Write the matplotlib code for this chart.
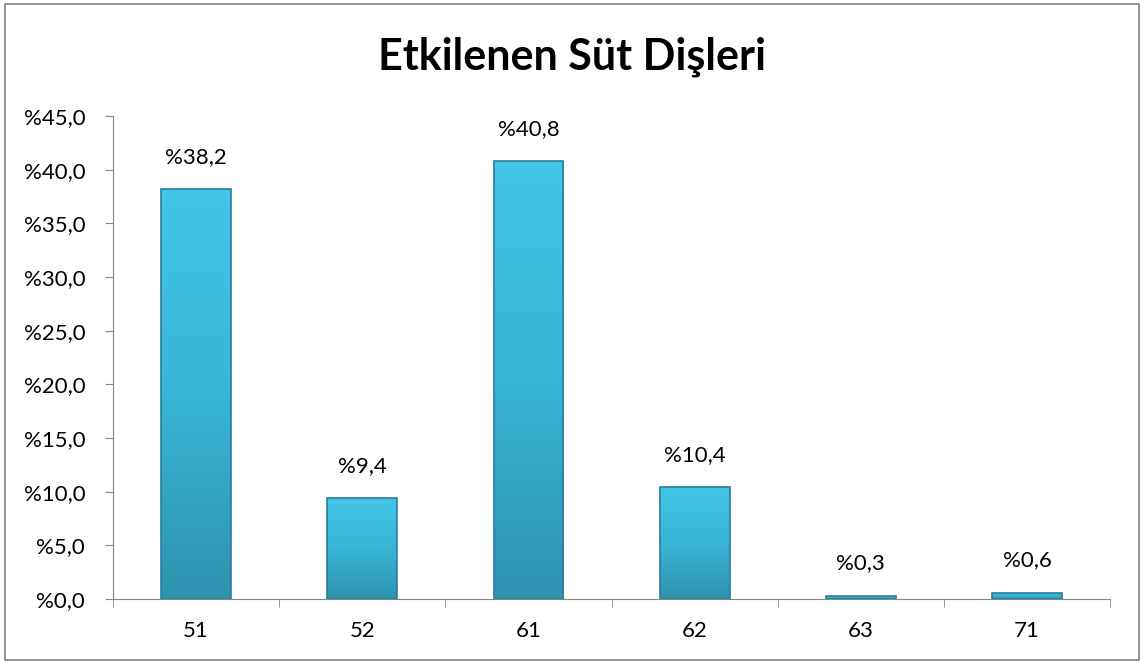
import matplotlib
matplotlib.use('Agg')
import matplotlib.pyplot as plt
import numpy as np
from matplotlib.patches import Rectangle
from matplotlib.colors import LinearSegmentedColormap

plt.rcParams['font.family'] = ['Lato', 'DejaVu Sans']

teeth = ['51', '52', '61', '62', '63', '71']
percent = [38.2, 9.4, 40.8, 10.4, 0.3, 0.6]
y_ticks = [0, 5, 10, 15, 20, 25, 30, 35, 40, 45]

fig = plt.figure(figsize=(11.44, 6.63), dpi=100)
ax = fig.add_axes([0.0988, 0.0965, 0.8715, 0.7285])

x = list(range(len(teeth)))
bars = ax.bar(x, percent, width=0.42, color='none', edgecolor='#2A7F98', linewidth=1.2, zorder=3)

# vertical gradient inside every bar
cmap = LinearSegmentedColormap.from_list('bar', ['#2E93AF', '#38B4D6', '#42C5E7'])
grad = np.linspace(0, 1, 256).reshape(-1, 1)
for b in bars:
    bx, by, bw, bh = b.get_x(), b.get_y(), b.get_width(), b.get_height()
    im = ax.imshow(grad, cmap=cmap, origin='lower', aspect='auto',
                   extent=[bx, bx + bw, by, by + bh], zorder=2)
    im.set_clip_path(b)

for xi, v in zip(x, percent):
    ax.annotate(f'%{v:.1f}'.replace('.', ','), (xi, v), xytext=(0, 16),
                textcoords='offset points', ha='center', va='bottom', fontsize=16)

ax.set_xlim(-0.5, len(teeth) - 0.5)
ax.set_ylim(0, 45)
ax.set_yticks(y_ticks)
ax.set_yticklabels([f'%{t:.1f}'.replace('.', ',') for t in y_ticks], fontsize=16)
ax.set_xticks(x)
ax.set_xticklabels(teeth, fontsize=16)
ax.set_xticks([i + 0.5 for i in range(-1, len(teeth))], minor=True)
ax.tick_params(axis='x', which='major', length=0, pad=16)
ax.tick_params(axis='x', which='minor', length=6, color='#868686')
ax.tick_params(axis='y', length=6, color='#868686', pad=14)

for s in ['top', 'right']:
    ax.spines[s].set_visible(False)
for s in ['left', 'bottom']:
    ax.spines[s].set_color('#868686')

fig.text(0.5, 0.915, 'Etkilenen Süt Dişleri', ha='center', va='center',
         fontsize=31, fontweight='bold')

fig.patches.append(Rectangle((0.004, 0.004), 0.992, 0.99, transform=fig.transFigure,
                             fill=False, edgecolor='#868686', linewidth=1.2))

fig.savefig('out.png', dpi=100)
